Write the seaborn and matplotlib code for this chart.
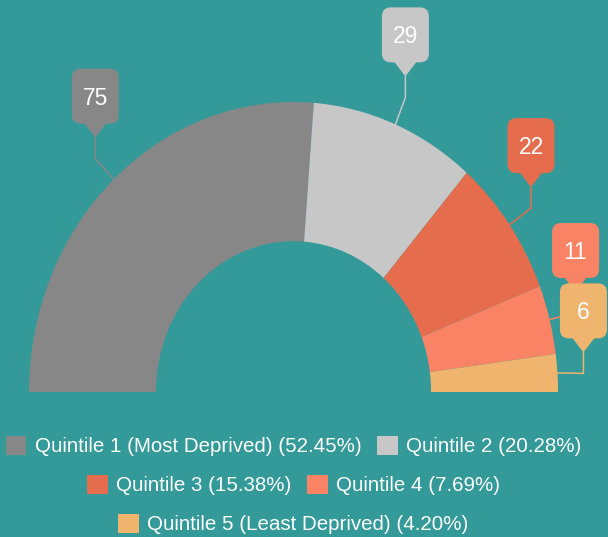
import numpy as np
import matplotlib
matplotlib.use("Agg")
import matplotlib.pyplot as plt
import seaborn as sns
from matplotlib.patches import FancyBboxPatch, Polygon, Patch
from matplotlib.lines import Line2D
from matplotlib.transforms import IdentityTransform

# ---- data ----
categories = ["Quintile 1 (Most Deprived)", "Quintile 2", "Quintile 3",
              "Quintile 4", "Quintile 5 (Least Deprived)"]
values = [75, 29, 22, 11, 6]
percent_labels = ["52.45%", "20.28%", "15.38%", "7.69%", "4.20%"]
colors = ["#878787", "#c7c7c7", "#e56d4d", "#fa8365", "#efb56f"]
bg = "#339999"

# label box offsets from slice anchor (pixels, y up) -- layout only
label_offsets = [(-18.5, 83), (10, 89.5), (21.5, 79), (26, 69), (26, 62)]

sns.set_theme(style="white")
plt.rcParams["font.family"] = ["Liberation Sans", "DejaVu Sans"]

W, H, DPI = 608, 537, 100
fig = plt.figure(figsize=(W / DPI, H / DPI), dpi=DPI, facecolor=bg)
ax = fig.add_axes([29 / W, 145 / H, 529 / W, 290 / H])
ax.set_facecolor(bg)

total = sum(values)
wedges, _ = ax.pie(values + [total], colors=colors + ["none"], startangle=180,
                   counterclock=False, radius=1,
                   wedgeprops=dict(width=0.48, linewidth=0))
ax.set_aspect("auto")
ax.set_xlim(-1, 1)
ax.set_ylim(0, 1)
ax.axis("off")

ident = IdentityTransform()
bw, bh, ptr, stem = 47, 55, 14, 21
anchors = []
for i, (v, c) in enumerate(zip(values, colors)):
    w = wedges[i]
    mid = np.deg2rad((w.theta1 + w.theta2) / 2)
    ax_pt = ax.transData.transform((np.cos(mid), np.sin(mid)))
    anchors.append(ax_pt)
    dx, dy = label_offsets[i]
    cx, cy = ax_pt[0] + dx, ax_pt[1] + dy
    bottom = cy - bh / 2
    tip = bottom - ptr
    bend = tip - stem
    ln = Line2D([ax_pt[0], cx, cx], [ax_pt[1], bend, tip], color=c, lw=1.1,
                transform=ident, clip_on=False, zorder=3)
    ax.add_artist(ln)
for i, (v, c) in enumerate(zip(values, colors)):
    ax_pt = anchors[i]
    dx, dy = label_offsets[i]
    cx, cy = ax_pt[0] + dx, ax_pt[1] + dy
    bottom = cy - bh / 2
    tip = bottom - ptr
    box = FancyBboxPatch((cx - bw / 2, bottom), bw, bh,
                         boxstyle="round,pad=0,rounding_size=9",
                         fc=c, ec="none", transform=ident, clip_on=False,
                         zorder=5 + i)
    ax.add_artist(box)
    tri = Polygon([(cx - 13, bottom + 3), (cx + 13, bottom + 3), (cx, tip)],
                  closed=True, fc=c, ec="none", transform=ident,
                  clip_on=False, zorder=5 + i)
    ax.add_artist(tri)
    ax.text(cx, cy - 2, str(v), color="white", fontsize=16.5, ha="center",
            va="center", transform=ident, clip_on=False, zorder=5 + i)

handles = [Patch(facecolor=c, edgecolor="none",
                 label=f"{cat} ({p})")
           for cat, p, c in zip(categories, percent_labels, colors)]
rows = [([0, 1], 446), ([2, 3], 485), ([4], 524)]
for idx, ypix in rows:
    leg = fig.legend(handles=[handles[k] for k in idx], loc="center",
                     bbox_to_anchor=(293.5 / W, 1 - ypix / H), ncol=len(idx),
                     frameon=False, fontsize=14.8, handlelength=1.0,
                     handleheight=1.08, handletextpad=0.4,
                     columnspacing=0.78, borderpad=0, borderaxespad=0)
    for t in leg.get_texts():
        t.set_color("white")

fig.savefig("out.png", dpi=DPI, facecolor=bg)
